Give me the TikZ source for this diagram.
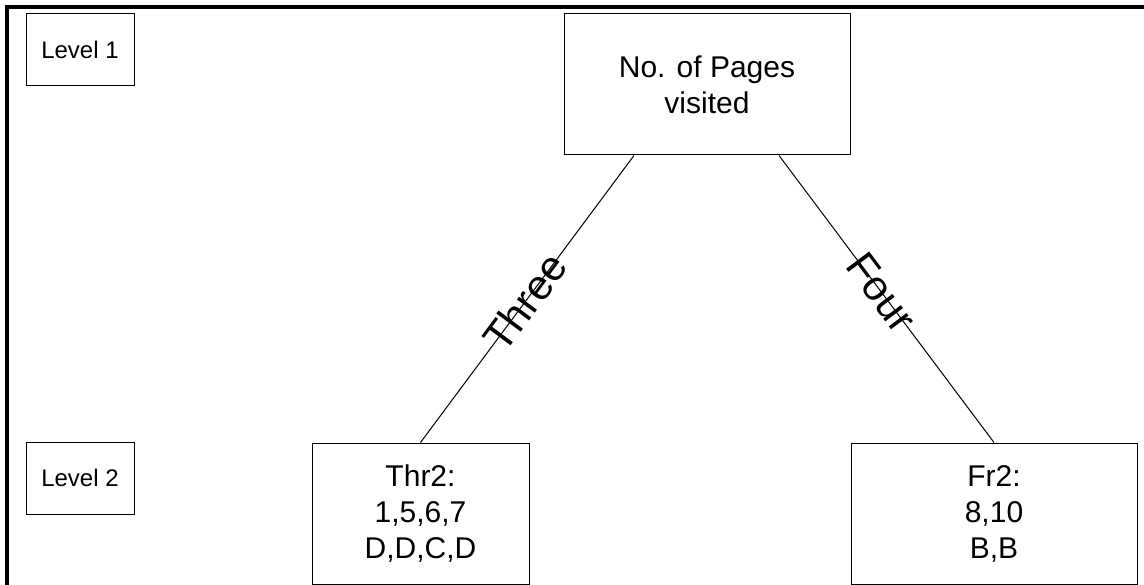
\documentclass[tikz,border=0pt]{standalone}
\usepackage{fontspec}
\setmainfont{Liberation Sans}
\begin{document}
\begin{tikzpicture}[x=1pt,y=-1pt,
  box/.style={draw, line width=1pt, inner sep=0pt, align=center,
    font=\fontsize{30}{36}\selectfont},
  lvl/.style={draw, line width=1pt, inner sep=0pt, minimum width=108pt,
    minimum height=72pt, font=\fontsize{24}{28}\selectfont},
  edge/.style={line width=1pt},
  lab/.style={sloped, inner sep=0pt, font=\fontsize{42}{48}\selectfont}]
\useasboundingbox (0,0) rectangle (1144,585);
% frame along the top and left
\draw[line width=3.3pt] (7,585) -- (7,7) -- (1144,7);
% level markers
\node[lvl] (lvl1) at (80,50) {Level 1};
\node[lvl] (lvl2) at (80,478) {Level 2};
% tree nodes
\node[box, minimum width=286pt, minimum height=141pt] (root) at (707,84.5)
  {No. of Pages\\visited};
\node[box, minimum width=217pt, minimum height=141pt] (thr) at (420.5,513.5)
  {Thr2:\\1,5,6,7\\D,D,C,D};
\node[box, minimum width=286pt, minimum height=141pt] (fr) at (994,513.5)
  {Fr2:\\8,10\\B,B};
% branches
\draw[edge] ([xshift=-73pt]root.south) -- node[lab, pos=0.51] {Three} (thr.north);
\draw[edge] ([xshift=72pt]root.south) -- node[lab, pos=0.476] {Four} (fr.north);
\end{tikzpicture}
\end{document}
